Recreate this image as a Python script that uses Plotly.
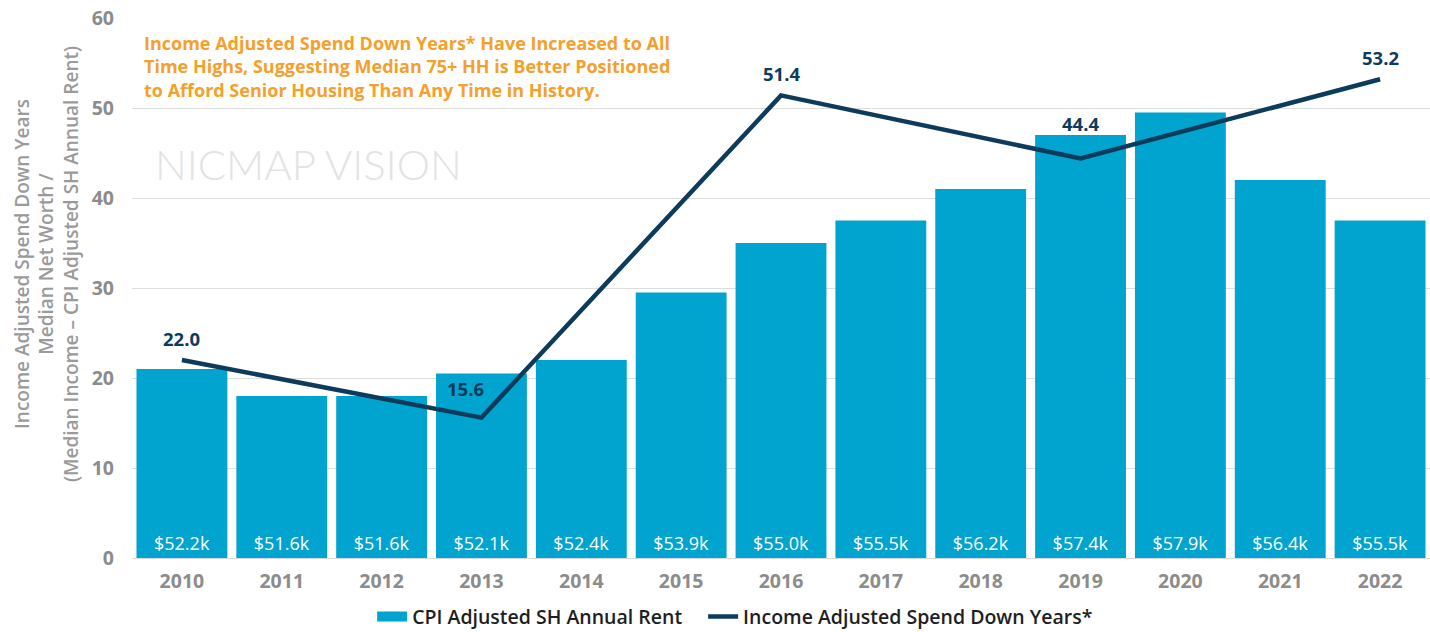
import plotly.graph_objects as go

years = ["2010", "2011", "2012", "2013", "2014", "2015", "2016", "2017", "2018", "2019", "2020", "2021", "2022"]
rent_k = [52.2, 51.6, 51.6, 52.1, 52.4, 53.9, 55.0, 55.5, 56.2, 57.4, 57.9, 56.4, 55.5]
rent_labels = ["$52.2k", "$51.6k", "$51.6k", "$52.1k", "$52.4k", "$53.9k", "$55.0k", "$55.5k",
               "$56.2k", "$57.4k", "$57.9k", "$56.4k", "$55.5k"]
line_years = ["2010", "2013", "2016", "2019", "2022"]
spend_down = [22.0, 15.6, 51.4, 44.4, 53.2]
spend_labels = ["22.0", "15.6", "51.4", "44.4", "53.2"]
yticks = [0, 10, 20, 30, 40, 50, 60]
title_text = ("Income Adjusted Spend Down Years* Have Increased to All<br>"
              "Time Highs, Suggesting Median 75+ HH is Better Positioned<br>"
              "to Afford Senior Housing Than Any Time in History.")
ytitle_text = ("Income Adjusted Spend Down Years<br>Median Net Worth /<br>"
               "(Median Income – CPI Adjusted SH Annual Rent)")

BAR = "#00A4CE"
LINE = "#0C3B5B"
FONT = "Open Sans"
GRAY = "#8C8C8C"
# label offsets in px (style only): default above the point
LABEL_SHIFT = {"2013": (-16, 29), "2019": (0, 35)}

fig = go.Figure()
# bars on a hidden rent axis (thousands of $)
fig.add_trace(go.Bar(
    x=years, y=[v - 48 for v in rent_k], base=48, yaxis="y",
    name="CPI Adjusted SH Annual Rent", showlegend=False,
    marker=dict(color=BAR, line=dict(width=0)),
    text=rent_labels, textposition="inside", insidetextanchor="start",
    textfont=dict(color="white", size=18, family=FONT, weight=500),
))
# legend swatch for the bars (wide rectangle like the original)
fig.add_trace(go.Scatter(
    x=[None], y=[None], yaxis="y2", mode="lines",
    name="CPI Adjusted SH Annual Rent", legend="legend",
    line=dict(color=BAR, width=12),
))
# line on the visible spend-down axis (drawn on top)
fig.add_trace(go.Scatter(
    x=line_years, y=spend_down, yaxis="y2",
    name="Income Adjusted Spend Down Years*", legend="legend2",
    mode="lines",
    line=dict(color=LINE, width=4.5),
    cliponaxis=False,
))
for yr, val, lab in zip(line_years, spend_down, spend_labels):
    dx, dy = LABEL_SHIFT.get(yr, (0, 22))
    fig.add_annotation(
        x=years.index(yr), y=val, xref="x", yref="y2", text=lab, showarrow=False,
        xshift=dx, yshift=dy,
        font=dict(color=LINE, size=18.5, family=FONT, weight="bold"),
    )

legend_style = dict(
    orientation="h", xanchor="left",
    yref="container", y=0.024, yanchor="middle",
    font=dict(size=19.5, color="#1E1E1E", family=FONT, weight=600),
    itemwidth=30, bgcolor="rgba(0,0,0,0)",
)

fig.update_layout(
    width=1430, height=632,
    margin=dict(l=132, r=0, t=18, b=74),
    plot_bgcolor="white", paper_bgcolor="white",
    bargap=0.09,
    font=dict(family=FONT, color=GRAY),
    xaxis=dict(
        type="category", categoryorder="array", categoryarray=years,
        range=[-0.5, len(years) - 0.5],
        showgrid=False, showline=True, linecolor="#D9D9D9", linewidth=1,
        ticks="", tickfont=dict(size=19.5, color=GRAY, family=FONT, weight="bold"),
        ticklabelstandoff=6, automargin=False, ticklabeloverflow="allow",
    ),
    yaxis=dict(range=[48, 60], visible=False, showgrid=False),
    yaxis2=dict(
        range=[0, 60], tickvals=yticks, overlaying="y", side="left", anchor="x",
        showgrid=True, gridcolor="#DDDDDD", gridwidth=1,
        zeroline=False, showline=False, ticks="",
        tickfont=dict(size=19.5, color=GRAY, family=FONT, weight="bold"),
        ticklabelstandoff=17, automargin=False, ticklabeloverflow="allow",
    ),
    legend=dict(x=0.185, **legend_style),
    legend2=dict(x=0.44, **legend_style),
    showlegend=True,
)

fig.add_annotation(
    xref="paper", yref="paper", x=0.008, y=0.98,
    xanchor="left", yanchor="top", text=title_text, align="left", showarrow=False,
    font=dict(size=18, color="#F5A02A", family=FONT, weight="bold"),
)
fig.add_annotation(
    xref="paper", yref="paper", x=-0.066, y=0.545,
    xanchor="center", yanchor="middle", text=ytitle_text, textangle=-90,
    showarrow=False, align="center",
    font=dict(size=19, color="#9A9A9A", family=FONT, weight=600),
)
fig.add_annotation(
    xref="paper", yref="paper", x=0.016, y=0.73, xanchor="left", yanchor="middle",
    text="NICMAP VISION", showarrow=False,
    font=dict(size=42, color="#E3E3E3", family="Lato", weight=300),
)

fig.write_html("out.html", config={"displayModeBar": False},
               post_script="document.body.style.margin='0';")
